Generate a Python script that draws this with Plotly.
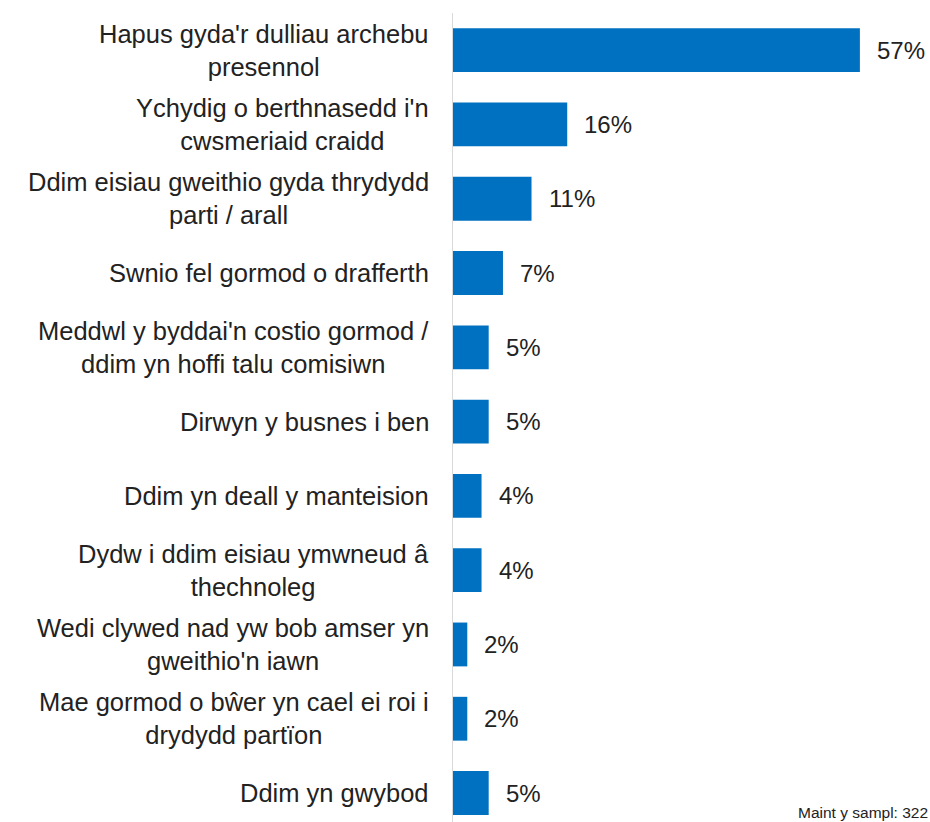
import plotly.graph_objects as go

# Reasons for not using a third-party booking service (% of respondents)
categories = [
    "Hapus gyda'r dulliau archebu<br>presennol",
    "Ychydig o berthnasedd i'n<br>cwsmeriaid craidd",
    "Ddim eisiau gweithio gyda thrydydd<br>parti / arall",
    "Swnio fel gormod o drafferth",
    "Meddwl y byddai'n costio gormod /<br>ddim yn hoffi talu comisiwn",
    "Dirwyn y busnes i ben",
    "Ddim yn deall y manteision",
    "Dydw i ddim eisiau ymwneud â<br>thechnoleg",
    "Wedi clywed nad yw bob amser yn<br>gweithio'n iawn",
    "Mae gormod o bŵer yn cael ei roi i<br>drydydd partïon",
    "Ddim yn gwybod",
]
values = [57, 16, 11, 7, 5, 5, 4, 4, 2, 2, 5]
value_labels = [f"{v}%" for v in values]
sample_note = "Maint y sampl: 322"

BAR_COLOR = "#0070C0"
TEXT_COLOR = "#222222"
FONT = "Liberation Sans, Arial, sans-serif"

ids = list(range(len(categories)))

fig = go.Figure(
    go.Bar(
        x=values,
        y=ids,
        orientation="h",
        marker=dict(color=BAR_COLOR, line=dict(width=0)),
        width=0.59,
        hoverinfo="skip",
    )
)

annotations = []
for i, (cat, lab, v) in enumerate(zip(categories, value_labels, values)):
    annotations.append(dict(
        text=cat, x=0, xref="paper", y=i, yref="y",
        xanchor="right", yanchor="middle", xshift=-22, align="center",
        showarrow=False, font=dict(family=FONT, size=25.5, color=TEXT_COLOR),
    ))
    annotations.append(dict(
        text=lab, x=v, xref="x", y=i, yref="y",
        xanchor="left", yanchor="middle", xshift=15,
        showarrow=False, font=dict(family=FONT, size=24, color=TEXT_COLOR),
    ))
annotations.append(dict(
    text=sample_note, x=1, xref="paper", y=0, yref="paper",
    xanchor="right", yanchor="bottom", xshift=13, yshift=-1,
    showarrow=False, font=dict(family=FONT, size=15.5, color=TEXT_COLOR),
))

fig.update_layout(
    width=930, height=822,
    margin=dict(l=453, r=13, t=13, b=0),
    paper_bgcolor="white", plot_bgcolor="white",
    showlegend=False,
    annotations=annotations,
    xaxis=dict(range=[0, 65], visible=False, fixedrange=True),
    yaxis=dict(
        range=[10.39, -0.5], showticklabels=False, ticks="",
        showgrid=False, zeroline=False,
        showline=True, linecolor="#d9d9d9", linewidth=1,
    ),
)

fig.write_html("out.html")
